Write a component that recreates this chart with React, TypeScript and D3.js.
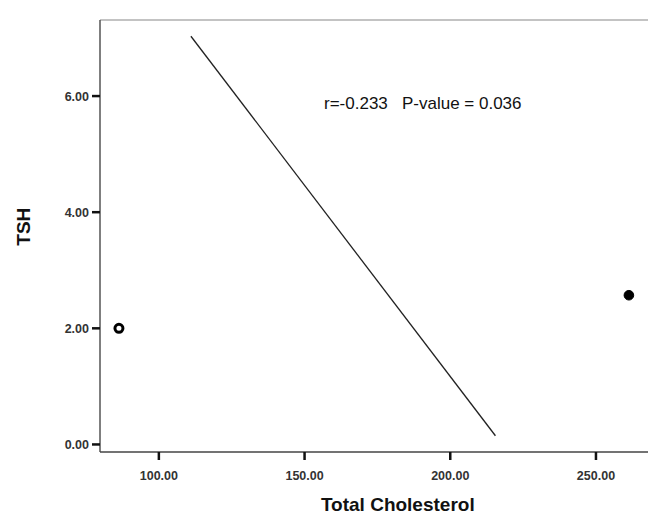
import React from 'react';
import * as d3 from 'd3';

const width = 648, height = 517;
const margin = { top: 20, right: -40, bottom: 65, left: 100 };

// tick values shown on the axes
const xTicks = [100, 150, 200, 250];
const yTicks = [0, 2, 4, 6];

// the two plotted points
const points = [
    { chol: 86.3, tsh: 2.0, open: true },
    { chol: 261.3, tsh: 2.57, open: false }
];

// ends of the fitted line
const fitLine = [
    { chol: 111, tsh: 7.03 },
    { chol: 215.5, tsh: 0.15 }
];

const annotation = 'r=-0.233   P-value = 0.036';

export default function App() {
    // x scale: 100 at 159px, 50 units ~ 145.7px
    const xScale = d3.scaleLinear().domain([79.8, 300]).range([margin.left, margin.left + (300 - 79.8) * 2.914]);
    const yScale = d3.scaleLinear().domain([-0.13, 7.31]).range([height - margin.bottom, margin.top]);

    const line = d3.line<{ chol: number, tsh: number }>()
        .x(d => xScale(d.chol))
        .y(d => yScale(d.tsh));

    const x0 = margin.left, y0 = height - margin.bottom;
    const fmt = d3.format('.2f');

    return (
        <svg width={width} height={height} style={{ position: 'absolute', left: 0, top: 0, background: '#fff' }}>
            {/* frame */}
            <line x1={x0} x2={width} y1={margin.top} y2={margin.top} stroke="#888" strokeWidth={1.2} />
            <line x1={x0} x2={x0} y1={margin.top} y2={y0} stroke="#555" strokeWidth={1.5} />
            <line x1={x0} x2={width} y1={y0} y2={y0} stroke="#444" strokeWidth={1.5} />

            {/* y axis ticks */}
            {yTicks.map(t => (
                <g key={t} transform={`translate(0,${yScale(t)})`}>
                    <line x1={x0 - 8} x2={x0} stroke="#111" strokeWidth={2.5} />
                    <text x={x0 - 11} dy="0.36em" textAnchor="end" fontFamily="Liberation Sans, Arial" fontSize={12.5}
                        fontWeight="bold" fill="#333">{fmt(t)}</text>
                </g>
            ))}

            {/* x axis ticks */}
            {xTicks.map(t => (
                <g key={t} transform={`translate(${xScale(t)},0)`}>
                    <line y1={y0} y2={y0 + 8} stroke="#111" strokeWidth={2.5} />
                    <text y={y0 + 28} textAnchor="middle" fontFamily="Liberation Sans, Arial" fontSize={12.5}
                        fontWeight="bold" fill="#333">{fmt(t)}</text>
                </g>
            ))}

            {/* axis titles */}
            <text transform={`translate(30,${yScale(3.75)}) rotate(-90)`} textAnchor="middle"
                fontFamily="Liberation Sans, Arial" fontSize={19} fontWeight="bold" fill="#111">TSH</text>
            <text x={xScale(182)} y={511} textAnchor="middle" fontFamily="Liberation Sans, Arial" fontSize={19}
                fontWeight="bold" fill="#111">Total Cholesterol</text>

            {/* fit line */}
            <path d={line(fitLine) || ''} fill="none" stroke="#222" strokeWidth={1.3} />

            {/* points */}
            {points.map((p, i) => (
                <circle key={i} cx={xScale(p.chol)} cy={yScale(p.tsh)} r={p.open ? 4 : 4.8}
                    fill={p.open ? '#fff' : '#000'} stroke="#000" strokeWidth={p.open ? 3 : 1} />
            ))}

            {/* correlation text */}
            <text x={324} y={109} xmlSpace="preserve" fontFamily="Liberation Sans, Arial"
                fontSize={17} fill="#111" style={{ whiteSpace: 'pre' }}>{annotation}</text>
        </svg>
    );
}
